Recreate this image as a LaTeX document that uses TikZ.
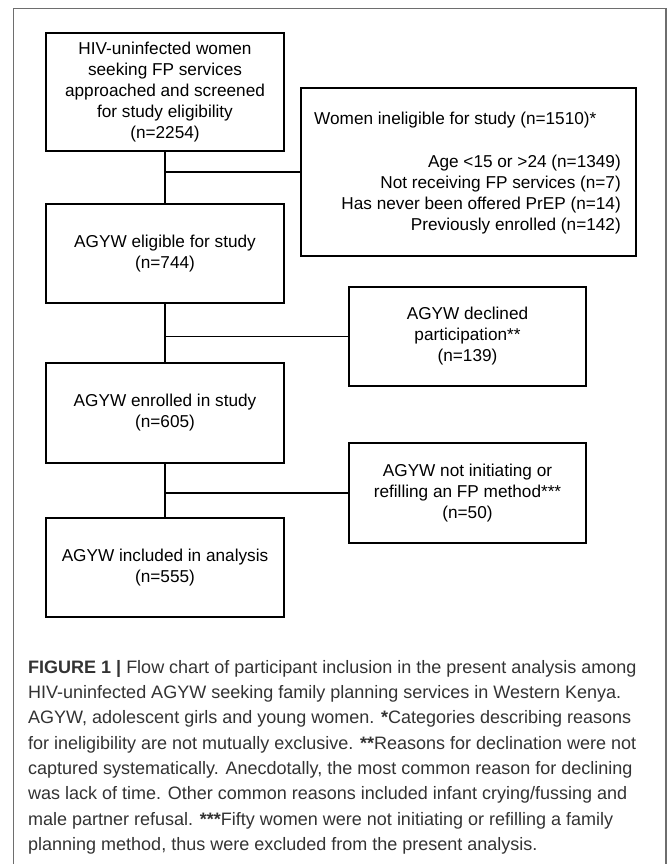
\documentclass[tikz,border=0pt]{standalone}
\usepackage{fontspec}
\setmainfont{Liberation Sans}
\definecolor{captxt}{HTML}{333333}
\definecolor{frame}{HTML}{6E6E6E}
\begin{document}
\begin{tikzpicture}[x=1pt,y=-1pt,
  box/.style={draw=black,line width=2.7pt,inner sep=0pt,
    font=\fontsize{17.2}{21}\selectfont,align=center,text=black},
  conn/.style={draw=black,line width=1.6pt},
  btxt/.style={inner sep=0pt,font=\fontsize{17.2}{21}\selectfont,text=black},
  captext/.style={inner sep=0pt,font=\fontsize{18}{25.3}\selectfont,text=captxt,align=left}
]
\useasboundingbox (0,0) rectangle (669,864);
\fill[white] (0,0) rectangle (669,864);
\draw[frame,line width=1.3pt] (13.5,870) -- (13.5,8.5) -- (666,8.5) -- (666,870);

\node[box,minimum width=238pt,minimum height=118pt] (b1) at (165,92)
  {HIV-uninfected women\\seeking FP services\\approached and screened\\for study eligibility\\(n=2254)};
\node[box,minimum width=335pt,minimum height=168pt] (inel) at (468.5,172) {};
\node[btxt,anchor=west] (ineltitle) at (314,120) {Women ineligible for study (n=1510)*};
\node[btxt,anchor=east,align=right] (inellist) at (621,194.5)
  {Age <15 or >24 (n=1349)\\Not receiving FP services (n=7)\\Has never been offered PrEP (n=14)\\Previously enrolled (n=142)};

\node[box,minimum width=238pt,minimum height=99pt] (b2) at (165,253.5)
  {AGYW eligible for study\\(n=744)};
\node[box,minimum width=237pt,minimum height=99pt] (dec) at (467.5,336.5)
  {AGYW declined\\participation**\\(n=139)};
\node[box,minimum width=238pt,minimum height=100pt] (b3) at (165,413)
  {AGYW enrolled in study\\(n=605)};
\node[box,minimum width=237pt,minimum height=100pt] (ni) at (467.5,493)
  {AGYW not initiating or\\refilling an FP method***\\(n=50)};
\node[box,minimum width=238pt,minimum height=99pt] (b4) at (165,567.5)
  {AGYW included in analysis\\(n=555)};

\draw[conn] (b1.south) -- (b2.north);
\draw[conn] (b1.south |- inel.west) -- (inel.west);
\draw[conn] (b2.south) -- (b3.north);
\draw[conn] (b2.south |- dec.west) -- (dec.west);
\draw[conn] (b3.south) -- (b4.north);
\draw[conn] (b3.south |- ni.west) -- (ni.west);

\node[captext,anchor=north west] (cap) at (28,660)
  {\textbf{FIGURE 1 |} Flow chart of participant inclusion in the present analysis among\\
   HIV-uninfected AGYW seeking family planning services in Western Kenya.\\
   AGYW, adolescent girls and young women. \textbf{*}Categories describing reasons\\
   for ineligibility are not mutually exclusive. \textbf{**}Reasons for declination were not\\
   captured systematically. Anecdotally, the most common reason for declining\\
   was lack of time. Other common reasons included infant crying/fussing and\\
   male partner refusal. \textbf{***}Fifty women were not initiating or refilling a family\\
   planning method, thus were excluded from the present analysis.};
\end{tikzpicture}
\end{document}
